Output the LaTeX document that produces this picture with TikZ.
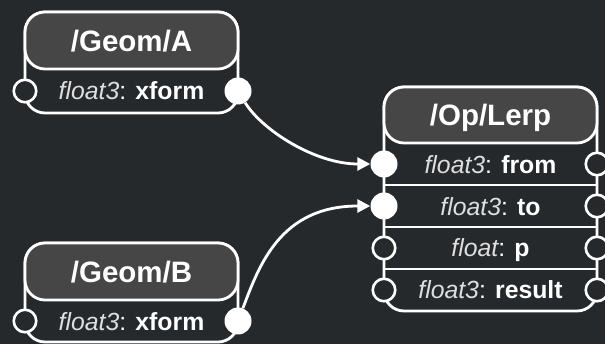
\documentclass[tikz,border=0pt]{standalone}
\usepackage{fontspec}
\setmainfont{Liberation Sans}
\usetikzlibrary{arrows.meta}
\definecolor{bg}{HTML}{26292C}
\definecolor{hdr}{HTML}{464646}
\definecolor{typ}{HTML}{DEDEDE}
\tikzset{
  frame/.style={draw=white, line width=2.8pt, rounded corners=20pt},
  hdrbox/.style={draw=white, fill=hdr, line width=2.8pt, rounded corners=20pt},
  title/.style={text=white, font=\fontsize{29.5}{33}\selectfont\bfseries, inner sep=0pt, anchor=base},
  rowlabel/.style={text=white, font=\fontsize{24.8}{28}\selectfont, inner sep=0pt, anchor=base},
  inport/.style={circle, draw=white, fill=bg, line width=2.6pt, minimum size=22.5pt, inner sep=0pt},
  outport/.style={circle, fill=white, minimum size=27pt, inner sep=0pt},
  wire/.style={draw=white, line width=2.8pt, -{Triangle[length=13pt,width=13pt]}},
  sepline/.style={draw=white, line width=2.8pt},
}
\newcommand{\plabel}[2]{\textit{\color{typ}#1}: \textbf{#2}}
\begin{document}
\begin{tikzpicture}[x=1pt,y=-1pt]
\fill[bg] (0,0) rectangle (605,344);
\useasboundingbox (0,0) rectangle (605,344);

% /Geom/A
\draw[frame] (25,12) rectangle (238,113);
\draw[hdrbox] (25,12) rectangle (238,69);
\node[title] (Atitle) at (131.5,51.5) {/Geom/A};
\node[rowlabel] (Arow) at (131.5,100) {\plabel{float3}{xform}};
\node[inport] (Ain) at (25,91) {};
\node[outport] (Aout) at (238,91) {};

% /Geom/B
\draw[frame] (25,243) rectangle (238,342);
\draw[hdrbox] (25,243) rectangle (238,300);
\node[title] (Btitle) at (131.5,282.5) {/Geom/B};
\node[rowlabel] (Brow) at (131.5,330.5) {\plabel{float3}{xform}};
\node[inport] (Bin) at (25,321) {};
\node[outport] (Bout) at (238,321) {};

% /Op/Lerp
\draw[frame] (384,87) rectangle (597,311);
\draw[hdrbox] (384,87) rectangle (597,143);
\draw[sepline] (384,185) -- (597,185);
\draw[sepline] (384,227) -- (597,227);
\draw[sepline] (384,269) -- (597,269);
\node[title] (Ltitle) at (490.5,125.5) {/Op/Lerp};
\node[rowlabel] (Lfromlbl) at (490.5,174) {\plabel{float3}{from}};
\node[rowlabel] (Ltolbl) at (490.5,215.5) {\plabel{float3}{to}};
\node[rowlabel] (Lplbl) at (490.5,257) {\plabel{float}{p}};
\node[rowlabel] (Lreslbl) at (490.5,299) {\plabel{float3}{result}};
\node[outport] (Lfrom) at (384,164) {};
\node[outport] (Lto) at (384,206) {};
\node[inport] (Lp) at (384,248) {};
\node[inport] (Lres) at (384,290) {};
\node[inport] (Rfrom) at (597,164) {};
\node[inport] (Rto) at (597,206) {};
\node[inport] (Rp) at (597,248) {};
\node[inport] (Rres) at (597,290) {};

% connectors
\draw[wire] (Aout) .. controls (262,130) and (315,164) .. (Lfrom);
\draw[wire] (Bout) .. controls (259,266) and (280,206) .. (Lto);
\end{tikzpicture}
\end{document}
